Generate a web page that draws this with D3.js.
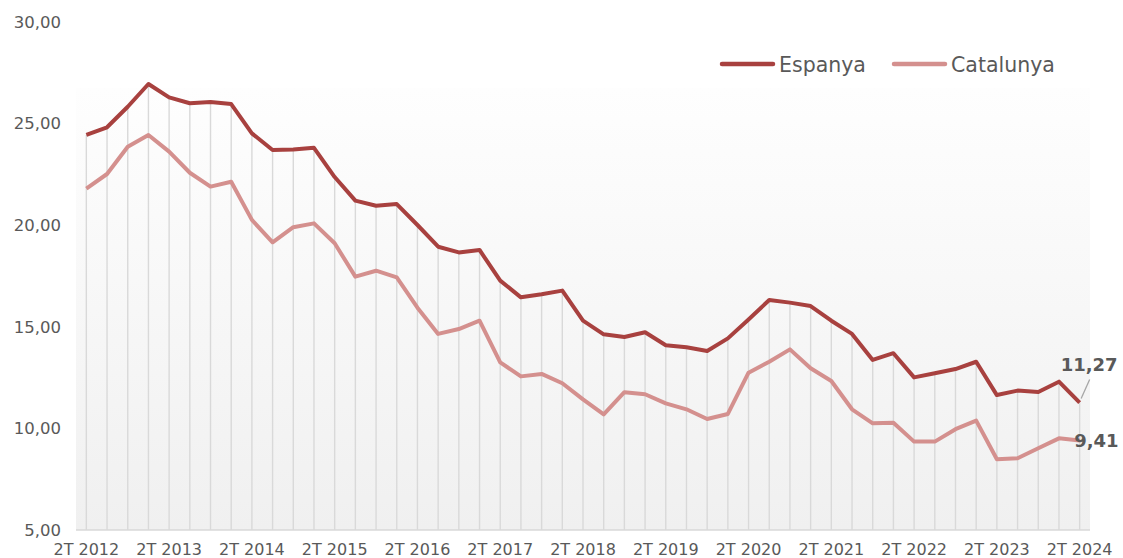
<!DOCTYPE html>
<html>
<head>
<meta charset="utf-8">
<script src="https://cdn.jsdelivr.net/npm/d3@7"></script>
<style>
    body { margin: 0; background: #ffffff; }
    svg text { font-family: "DejaVu Sans", Verdana, sans-serif; }
</style>
</head>
<body>
<div id="chart"></div>
<script>
// Quarterly data, 2T 2012 .. 2T 2024
const years = d3.range(2012, 2025);
const quarters = [];
years.forEach(y => {
    [1, 2, 3, 4].forEach(q => {
        if ((y === 2012 && q < 2) || (y === 2024 && q > 2)) return;
        quarters.push(`${q}T ${y}`);
    });
});

const espanya = [
    24.44, 24.82, 25.83, 26.95, 26.29, 26.00, 26.06, 25.96,
    24.52, 23.70, 23.72, 23.81, 22.37, 21.21, 20.96, 21.04,
    20.01, 18.94, 18.66, 18.78, 17.27, 16.45, 16.60, 16.78,
    15.30, 14.63, 14.50, 14.73, 14.09, 13.99, 13.81, 14.43,
    15.36, 16.32, 16.19, 16.02, 15.30, 14.65, 13.37, 13.70,
    12.51, 12.71, 12.92, 13.28, 11.64, 11.86, 11.79, 12.30,
    11.27
];

const catalunya = [
    21.80, 22.52, 23.86, 24.44, 23.62, 22.58, 21.90, 22.14,
    20.26, 19.16, 19.90, 20.09, 19.11, 17.47, 17.76, 17.43,
    15.94, 14.65, 14.89, 15.30, 13.25, 12.56, 12.68, 12.22,
    11.43, 10.69, 11.78, 11.68, 11.23, 10.94, 10.46, 10.71,
    12.74, 13.28, 13.89, 12.96, 12.33, 10.94, 10.25, 10.28,
    9.35, 9.35, 9.96, 10.38, 8.48, 8.53, 9.02, 9.51,
    9.41
];

const yTicks = [5, 10, 15, 20, 25, 30];
const xTickLabels = quarters.filter(q => q.startsWith("2T"));

const series = [
    { name: "Espanya", values: espanya, color: "#a8413f" },
    { name: "Catalunya", values: catalunya, color: "#d4908e" }
];

const width = 1123;
const height = 558;
const margin = { top: 22, right: 33, bottom: 28, left: 76 };
const plotTop = 88; // shaded plot area starts below the legend

const svg = d3.select("#chart")
    .append("svg")
    .attr("width", width)
    .attr("height", height);

const x = d3.scaleBand()
    .domain(quarters)
    .range([margin.left, width - margin.right]);

const y = d3.scaleLinear()
    .domain([5, 30])
    .range([height - margin.bottom, margin.top]);

const cx = d => x(d) + x.bandwidth() / 2;

// Plot background gradient
const defs = svg.append("defs");
const grad = defs.append("linearGradient")
    .attr("id", "bg")
    .attr("x1", 0).attr("y1", 0)
    .attr("x2", 0).attr("y2", 1);
grad.append("stop").attr("offset", "0%").attr("stop-color", "#fefefe");
grad.append("stop").attr("offset", "100%").attr("stop-color", "#f0f0f0");

svg.append("rect")
    .attr("x", margin.left)
    .attr("y", plotTop)
    .attr("width", width - margin.left - margin.right)
    .attr("height", y(5) - plotTop)
    .attr("fill", "url(#bg)");

// Drop lines from the Espanya series down to the axis
svg.append("g")
    .selectAll("line")
    .data(quarters)
    .join("line")
    .attr("x1", d => cx(d))
    .attr("x2", d => cx(d))
    .attr("y1", (d, i) => y(espanya[i]))
    .attr("y2", y(5))
    .attr("stroke", "#d9d9d9")
    .attr("stroke-width", 1.4);

// Bottom axis line
svg.append("line")
    .attr("x1", margin.left)
    .attr("x2", width - margin.right)
    .attr("y1", y(5))
    .attr("y2", y(5))
    .attr("stroke", "#d9d9d9")
    .attr("stroke-width", 1.4);

// Y axis labels
const yAxis = d3.axisLeft(y)
    .tickValues(yTicks)
    .tickSize(0)
    .tickPadding(0)
    .tickFormat(d => d.toFixed(2).replace(".", ","));

svg.append("g")
    .attr("transform", `translate(${margin.left - 15},0)`)
    .call(yAxis)
    .call(g => g.select(".domain").remove())
    .call(g => g.selectAll("text")
        .attr("fill", "#595959")
        .attr("font-size", 16.5)
        .attr("font-family", "DejaVu Sans, Verdana, sans-serif"));

// X axis labels
const xAxis = d3.axisBottom(x)
    .tickValues(xTickLabels)
    .tickSize(0)
    .tickPadding(0);

svg.append("g")
    .attr("transform", `translate(0,${y(5) + 14})`)
    .call(xAxis)
    .call(g => g.select(".domain").remove())
    .call(g => g.selectAll("text")
        .attr("fill", "#595959")
        .attr("font-size", 16)
        .attr("font-family", "DejaVu Sans, Verdana, sans-serif"));

// Series lines
const line = d3.line()
    .x((d, i) => cx(quarters[i]))
    .y(d => y(d));

series.slice().reverse().forEach(s => {
    svg.append("path")
        .datum(s.values)
        .attr("fill", "none")
        .attr("stroke", s.color)
        .attr("stroke-width", 4)
        .attr("stroke-linejoin", "round")
        .attr("d", line);
});

// End labels
const last = quarters.length - 1;
const lastX = cx(quarters[last]);

svg.append("line")
    .attr("x1", lastX + 1.5)
    .attr("y1", y(espanya[last]) - 4)
    .attr("x2", lastX + 10)
    .attr("y2", y(espanya[last]) - 23)
    .attr("stroke", "#a6a6a6")
    .attr("stroke-width", 1.3);

svg.append("text")
    .attr("x", lastX + 38)
    .attr("y", y(espanya[last]) - 32)
    .attr("text-anchor", "end")
    .attr("font-size", 18)
    .attr("font-weight", "bold")
    .attr("fill", "#595959")
    .text(espanya[last].toFixed(2).replace(".", ","));

svg.append("text")
    .attr("x", lastX + 39)
    .attr("y", y(catalunya[last]) + 7)
    .attr("text-anchor", "end")
    .attr("font-size", 18)
    .attr("font-weight", "bold")
    .attr("fill", "#595959")
    .text(catalunya[last].toFixed(2).replace(".", ","));

// Legend
const legendX = [720, 892];
const legend = svg.append("g");
series.forEach((s, i) => {
    const g = legend.append("g").attr("transform", `translate(${legendX[i]},64)`);
    g.append("line")
        .attr("x1", 2).attr("x2", 53)
        .attr("y1", 0).attr("y2", 0)
        .attr("stroke", s.color)
        .attr("stroke-width", 4.5)
        .attr("stroke-linecap", "round");
    g.append("text")
        .attr("x", 59)
        .attr("y", 7.5)
        .attr("font-size", 20.5)
        .attr("fill", "#595959")
        .text(s.name);
});
</script>
</body>
</html>
